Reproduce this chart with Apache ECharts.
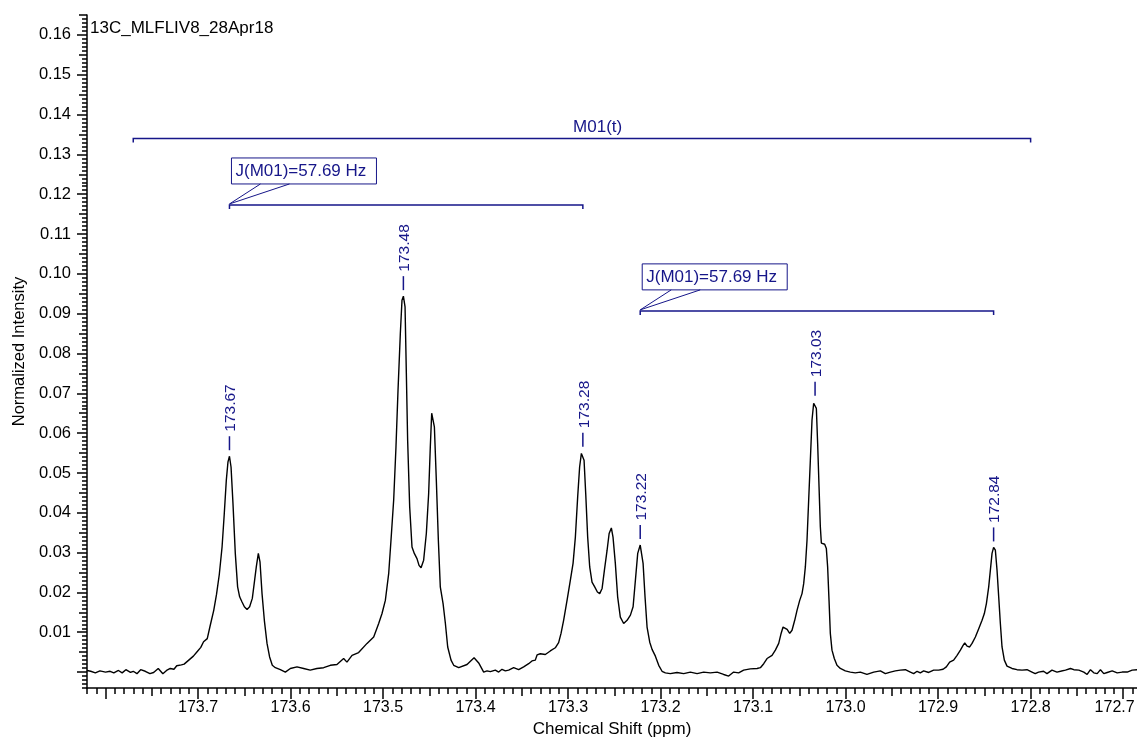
<!DOCTYPE html>
<html>
<head>
<meta charset="utf-8">
<script src="https://cdn.jsdelivr.net/npm/echarts@6/dist/echarts.min.js"></script>
<style>
  html, body { margin: 0; padding: 0; background: #fff; }
  #chart { width: 1137px; height: 743px; }
</style>
</head>
<body>
<div id="chart"></div>
<script>
// 13C spectrum: [chemical shift (ppm), normalized intensity]
const spectrum = [
  [173.820, 0.0004], [173.816, 0.0002], [173.811, -0.0002], [173.806, 0.0003], [173.800, 0.0000],
  [173.795, 0.0002], [173.791, -0.0002], [173.786, 0.0004], [173.782, -0.0002], [173.778, 0.0006],
  [173.773, -0.0001], [173.770, 0.0002], [173.766, -0.0004], [173.762, 0.0006], [173.757, 0.0002],
  [173.752, -0.0004], [173.748, -0.0001], [173.743, 0.0009], [173.738, -0.0004], [173.734, 0.0004],
  [173.730, 0.0009], [173.726, 0.0007], [173.723, 0.0016], [173.718, 0.0018], [173.715, 0.0020],
  [173.710, 0.0030], [173.705, 0.0040], [173.701, 0.0051], [173.697, 0.0062], [173.694, 0.0076],
  [173.690, 0.0084], [173.687, 0.0115], [173.683, 0.0155], [173.680, 0.0195], [173.677, 0.0245],
  [173.674, 0.0314], [173.6716, 0.0398], [173.6694, 0.0482], [173.6676, 0.0528], [173.666, 0.0542],
  [173.6643, 0.0515], [173.6622, 0.0423], [173.6597, 0.0298], [173.6572, 0.0214], [173.655, 0.0189],
  [173.6524, 0.0176], [173.6499, 0.0164], [173.647, 0.0157], [173.6442, 0.0164], [173.6413, 0.0185],
  [173.6388, 0.0231], [173.637, 0.0264], [173.6348, 0.0298], [173.633, 0.0277], [173.6308, 0.0197],
  [173.6283, 0.0130], [173.6254, 0.0072], [173.6226, 0.0038], [173.6197, 0.0017], [173.6164, 0.0011],
  [173.611, 0.0006], [173.6056, 0.0000], [173.6002, 0.0009], [173.593, 0.0013], [173.5858, 0.0009],
  [173.5787, 0.0005], [173.5715, 0.0009], [173.5642, 0.0011], [173.557, 0.0017], [173.5498, 0.0019],
  [173.5426, 0.0034], [173.539, 0.0025], [173.5335, 0.0042], [173.5264, 0.0049], [173.5173, 0.0072],
  [173.5101, 0.0088], [173.5047, 0.0122], [173.5011, 0.0147], [173.4975, 0.0180], [173.4939, 0.0247],
  [173.4914, 0.0331], [173.4885, 0.0432], [173.486, 0.0566], [173.4838, 0.0708], [173.4813, 0.0850],
  [173.4795, 0.0934], [173.478, 0.0944], [173.4762, 0.0917], [173.4748, 0.0750], [173.4734, 0.0582],
  [173.4712, 0.0415], [173.4687, 0.0314], [173.4662, 0.0298], [173.4633, 0.0285], [173.4611, 0.0268],
  [173.4589, 0.0262], [173.4561, 0.0281], [173.4532, 0.0348], [173.4507, 0.0448], [173.4489, 0.0566],
  [173.4474, 0.0650], [173.4464, 0.0655], [173.4445, 0.0616], [173.4424, 0.0482], [173.4402, 0.0331],
  [173.4381, 0.0214], [173.4351, 0.0172], [173.4326, 0.0122], [173.4301, 0.0063], [173.4265, 0.0030],
  [173.4236, 0.0017], [173.4182, 0.0011], [173.4092, 0.0019], [173.4016, 0.0036], [173.3966, 0.0023],
  [173.3912, 0.0000], [173.3876, 0.0003], [173.384, 0.0001], [173.3786, 0.0005], [173.375, 0.0000],
  [173.3714, 0.0007], [173.3678, 0.0003], [173.3642, 0.0005], [173.3588, 0.0011], [173.3534, 0.0006],
  [173.348, 0.0013], [173.3426, 0.0021], [173.339, 0.0028], [173.3354, 0.0030], [173.3335, 0.0043],
  [173.33, 0.0046], [173.3246, 0.0044], [173.3192, 0.0053], [173.3138, 0.0061], [173.3102, 0.0074],
  [173.3076, 0.0097], [173.3048, 0.0130], [173.3011, 0.0180], [173.2975, 0.0231], [173.2946, 0.0273],
  [173.2921, 0.0339], [173.2896, 0.0440], [173.2875, 0.0515], [173.2856, 0.0549], [173.284, 0.0551],
  [173.2827, 0.0532], [173.2809, 0.0448], [173.2788, 0.0339], [173.2766, 0.0264], [173.2741, 0.0226],
  [173.2712, 0.0214], [173.2683, 0.0201], [173.2658, 0.0197], [173.2632, 0.0210], [173.2607, 0.0256],
  [173.2578, 0.0306], [173.2556, 0.0348], [173.2532, 0.0362], [173.2514, 0.0339], [173.2489, 0.0273],
  [173.2464, 0.0189], [173.2435, 0.0138], [173.2399, 0.0122], [173.2362, 0.0130], [173.2326, 0.0143],
  [173.2297, 0.0164], [173.2272, 0.0231], [173.2247, 0.0298], [173.222, 0.0319], [173.2205, 0.0314],
  [173.2189, 0.0273], [173.2168, 0.0189], [173.2146, 0.0113], [173.2117, 0.0075], [173.2092, 0.0057],
  [173.2056, 0.0040], [173.202, 0.0017], [173.1984, 0.0002], [173.1948, -0.0002], [173.1895, -0.0004],
  [173.1822, -0.0001], [173.175, -0.0004], [173.1678, 0.0000], [173.1605, -0.0004], [173.1534, 0.0000],
  [173.1462, -0.0002], [173.1389, 0.0000], [173.1318, -0.0006], [173.1264, -0.0010], [173.121, 0.0000],
  [173.1156, -0.0002], [173.1102, 0.0005], [173.103, 0.0008], [173.0957, 0.0009], [173.0921, 0.0011],
  [173.0885, 0.0021], [173.0849, 0.0034], [173.0795, 0.0042], [173.0759, 0.0055], [173.0723, 0.0072],
  [173.0697, 0.0097], [173.0676, 0.0113], [173.0658, 0.0118], [173.0632, 0.0107], [173.0604, 0.0097],
  [173.0579, 0.0105], [173.055, 0.0130], [173.0525, 0.0155], [173.0496, 0.0180], [173.0471, 0.0197],
  [173.0453, 0.0222], [173.0435, 0.0264], [173.0417, 0.0331], [173.0399, 0.0432], [173.0381, 0.0532],
  [173.0363, 0.0633], [173.0345, 0.0675], [173.033, 0.0679], [173.0316, 0.0662], [173.0302, 0.0574],
  [173.0287, 0.0465], [173.0273, 0.0365], [173.0262, 0.0324], [173.0244, 0.0323], [173.0226, 0.0321],
  [173.0208, 0.0310], [173.0194, 0.0264], [173.0179, 0.0180], [173.0165, 0.0097], [173.0147, 0.0055],
  [173.0122, 0.0034], [173.0093, 0.0017], [173.0057, 0.0009], [173.0003, 0.0003], [172.9949, 0.0000],
  [172.9895, -0.0002], [172.9841, 0.0000], [172.9769, -0.0006], [172.9696, 0.0000], [172.9624, 0.0003],
  [172.957, -0.0004], [172.9516, 0.0000], [172.9462, 0.0003], [172.9408, 0.0005], [172.9354, 0.0006],
  [172.930, 0.0000], [172.9264, -0.0004], [172.9227, 0.0002], [172.9192, -0.0002], [172.9156, 0.0003],
  [172.9102, -0.0001], [172.9048, 0.0005], [172.8994, 0.0005], [172.8946, 0.0007], [172.8911, 0.0013],
  [172.8875, 0.0025], [172.8832, 0.0030], [172.8795, 0.0042], [172.8759, 0.0055], [172.873, 0.0067],
  [172.8712, 0.0073], [172.8687, 0.0065], [172.8659, 0.0063], [172.8633, 0.0072], [172.8597, 0.0088],
  [172.8561, 0.0109], [172.8525, 0.0130], [172.850, 0.0147], [172.8478, 0.0172], [172.8453, 0.0214],
  [172.8435, 0.0256], [172.8417, 0.0298], [172.840, 0.0313], [172.8381, 0.0306], [172.8363, 0.0256],
  [172.8345, 0.0189], [172.8327, 0.0122], [172.8309, 0.0063], [172.8284, 0.0030], [172.8255, 0.0015],
  [172.8201, 0.0009], [172.8147, 0.0006], [172.8093, 0.0005], [172.8039, 0.0006], [172.7985, 0.0000],
  [172.795, -0.0004], [172.7914, 0.0000], [172.786, 0.0002], [172.7823, -0.0004], [172.7769, 0.0005],
  [172.7715, 0.0000], [172.7677, 0.0002], [172.7623, 0.0005], [172.7569, 0.0009], [172.7533, 0.0006],
  [172.7479, 0.0005], [172.7425, 0.0000], [172.7389, -0.0006], [172.7353, 0.0006], [172.7317, -0.0002],
  [172.728, -0.0004], [172.7245, 0.0006], [172.7209, -0.0004], [172.7172, -0.0001], [172.7118, 0.0003],
  [172.7064, -0.0002], [172.701, 0.0000], [172.6956, 0.0000], [172.6902, 0.0005], [172.6848, 0.0006]
];

// Picked peaks
const peakShift = [173.666, 173.478, 173.284, 173.222, 173.033, 172.840];
const peakHeight = [0.0542, 0.0944, 0.0551, 0.0319, 0.0679, 0.0313];

// Multiplet range
const multipletName = 'M01(t)';
const multipletRange = [173.77, 172.80];
const multipletLevel = 0.134;
const multipletCenter = 173.268;

// Coupling brackets
const couplingLabel = ['J(M01)=57.69 Hz', 'J(M01)=57.69 Hz'];
const couplingFrom = [173.666, 173.222];
const couplingTo = [173.284, 172.840];
const couplingLevel = [0.1173, 0.0907];

// Axis ticks and labels
const xTickLabels = [172.7, 172.8, 172.9, 173.0, 173.1, 173.2, 173.3, 173.4, 173.5, 173.6, 173.7];
const xMajorTicks = xTickLabels.concat([173.8]);
const yTickLabels = [0.01, 0.02, 0.03, 0.04, 0.05, 0.06, 0.07, 0.08, 0.09, 0.10, 0.11, 0.12, 0.13, 0.14, 0.15, 0.16];
const yMajorTicks = [0].concat(yTickLabels);

const X_MIN = 172.685, X_MAX = 173.82;
const Y_MIN = -0.004, Y_MAX = 0.165;

const xMidTicks = [], xMinorTicks = [];
for (let k = 17269; k <= 17382; k++) {
  if (k % 5 === 0) xMidTicks.push(k / 100); else xMinorTicks.push(k / 100);
}
const yMidTicks = [], yMinorTicks = [];
for (let k = -4; k <= 165; k++) {
  if (k % 5 === 0) yMidTicks.push(k / 1000); else yMinorTicks.push(k / 1000);
}

const FONT = '"Liberation Sans", Arial, sans-serif';
const NAVY = '#161689';
const black = { color: '#000', width: 1.5 };
const edgeLabel = Math.min.apply(null, xTickLabels);

function xAxisLayer(ticks, len, extra) {
  return Object.assign({
    type: 'value', position: 'bottom', inverse: true, min: X_MIN, max: X_MAX,
    axisLine: { show: false, onZero: false },
    axisTick: { show: true, customValues: ticks, length: len, lineStyle: { color: '#000', width: 1.5 } },
    axisLabel: { show: false },
    splitLine: { show: false }
  }, extra || {});
}
function yAxisLayer(ticks, len, extra) {
  return Object.assign({
    type: 'value', position: 'left', min: Y_MIN, max: Y_MAX,
    axisLine: { show: false, onZero: false },
    axisTick: { show: true, customValues: ticks, length: len, lineStyle: { color: '#000', width: 1.5 } },
    axisLabel: { show: false },
    splitLine: { show: false }
  }, extra || {});
}

const chart = echarts.init(document.getElementById('chart'), null, { renderer: 'canvas' });

chart.setOption({
  animation: false,
  backgroundColor: '#fff',
  title: {
    text: '13C_MLFLIV8_28Apr18',
    left: 90, top: 20, padding: 0,
    textStyle: { fontFamily: FONT, fontSize: 17, fontWeight: 'normal', color: '#000' }
  },
  grid: { left: 87, right: 0, top: 15, bottom: 55, containLabel: false, outerBoundsMode: 'none' },
  xAxis: [
    xAxisLayer(xMajorTicks, 11, {
      axisLine: { show: true, onZero: false, lineStyle: black },
      axisLabel: {
        show: true, customValues: xTickLabels, margin: 12, hideOverlap: false,
        fontFamily: FONT, fontSize: 16, color: '#000',
        formatter: v => {
          const s = Number(v).toFixed(1);
          // keep the last label inside the canvas
          return Math.abs(v - edgeLabel) < 1e-6 ? '{edge|' + s + '}' : s;
        },
        rich: { edge: { fontFamily: FONT, fontSize: 16, color: '#000', padding: [0, 17, 0, 0] } }
      },
      name: 'Chemical Shift (ppm)', nameLocation: 'middle', nameGap: 32,
      nameTextStyle: { fontFamily: FONT, fontSize: 17, color: '#000' }
    }),
    xAxisLayer(xMidTicks, 8),
    xAxisLayer(xMinorTicks, 6)
  ],
  yAxis: [
    yAxisLayer(yMajorTicks, 10, {
      axisLine: { show: true, onZero: false, lineStyle: black },
      axisLabel: {
        show: true, customValues: yTickLabels, margin: 16,
        fontFamily: FONT, fontSize: 16.5, color: '#000',
        formatter: v => Number(v).toFixed(2)
      },
      name: 'Normalized Intensity', nameLocation: 'middle', nameGap: 58,
      nameTextStyle: { fontFamily: FONT, fontSize: 16.5, color: '#000' }
    }),
    yAxisLayer(yMidTicks, 8),
    yAxisLayer(yMinorTicks, 5)
  ],
  series: [
    {
      name: 'spectrum', type: 'line', xAxisIndex: 0, yAxisIndex: 0,
      data: spectrum, showSymbol: false, silent: true,
      lineStyle: { color: '#000', width: 1.4 }
    },
    {
      // peak picks: short tick above each apex with the shift written upwards
      name: 'peaks', type: 'custom', xAxisIndex: 0, yAxisIndex: 0, silent: true,
      data: peakShift.map((x, i) => [x, peakHeight[i]]),
      renderItem: function (params, api) {
        const p = api.coord([api.value(0), api.value(1)]);
        return {
          type: 'group',
          children: [
            {
              type: 'line',
              shape: { x1: p[0], y1: p[1] - 6, x2: p[0], y2: p[1] - 20 },
              style: { stroke: NAVY, lineWidth: 1.5 }
            },
            {
              type: 'text', x: p[0] + 1.5, y: p[1] - 24.5, rotation: Math.PI / 2,
              style: {
                text: api.value(0).toFixed(2), x: 0, y: 0,
                align: 'left', verticalAlign: 'middle',
                font: '15.5px ' + FONT, fill: NAVY
              }
            }
          ]
        };
      }
    },
    {
      name: 'multiplet', type: 'custom', xAxisIndex: 0, yAxisIndex: 0, silent: true,
      data: [[multipletRange[0], multipletLevel, multipletRange[1], multipletCenter]],
      renderItem: function (params, api) {
        const a = api.coord([api.value(0), api.value(1)]);
        const b = api.coord([api.value(2), api.value(1)]);
        const c = api.coord([api.value(3), api.value(1)]);
        return {
          type: 'group',
          children: [
            {
              type: 'polyline',
              shape: { points: [[a[0], a[1] + 4], a, b, [b[0], b[1] + 4]] },
              style: { stroke: NAVY, lineWidth: 1.5, fill: null }
            },
            {
              type: 'text',
              style: {
                text: multipletName, x: c[0], y: a[1] - 3,
                align: 'center', verticalAlign: 'bottom',
                font: '17px ' + FONT, fill: NAVY
              }
            }
          ]
        };
      }
    },
    {
      name: 'coupling', type: 'custom', xAxisIndex: 0, yAxisIndex: 0, silent: true,
      data: couplingFrom.map((f, i) => [f, couplingLevel[i], couplingTo[i]]),
      renderItem: function (params, api) {
        const a = api.coord([api.value(0), api.value(1)]);
        const b = api.coord([api.value(2), api.value(1)]);
        const boxBottom = a[1] - 21;
        const boxH = 26, boxW = 145;
        return {
          type: 'group',
          children: [
            {
              type: 'polyline',
              shape: { points: [[a[0], a[1] + 4], a, b, [b[0], b[1] + 4]] },
              style: { stroke: NAVY, lineWidth: 1.5, fill: null }
            },
            {
              type: 'polyline',
              shape: { points: [[a[0] + 31, boxBottom], [a[0], a[1] - 1], [a[0] + 60, boxBottom]] },
              style: { stroke: NAVY, lineWidth: 1, fill: null }
            },
            {
              type: 'rect',
              shape: { x: a[0] + 2, y: boxBottom - boxH, width: boxW, height: boxH },
              style: { stroke: NAVY, lineWidth: 1, fill: null }
            },
            {
              type: 'text',
              style: {
                text: couplingLabel[params.dataIndex], x: a[0] + 6, y: boxBottom - boxH / 2,
                align: 'left', verticalAlign: 'middle',
                font: '17px ' + FONT, fill: NAVY
              }
            }
          ]
        };
      }
    }
  ]
});
</script>
</body>
</html>
